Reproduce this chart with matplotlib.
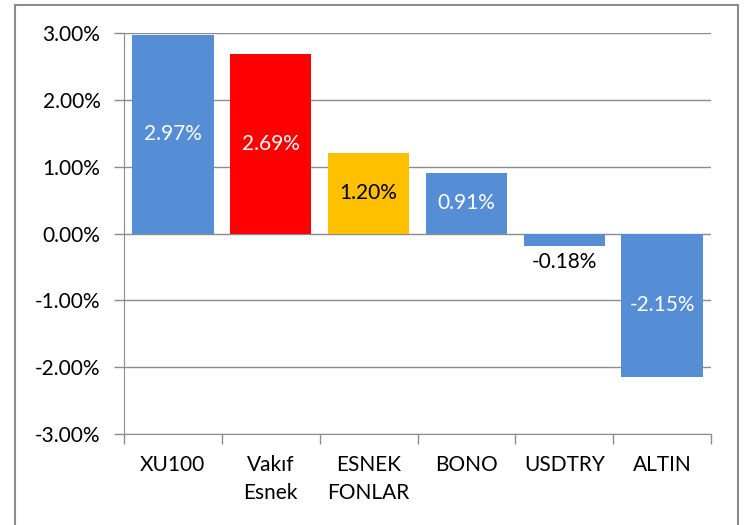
import numpy as np
import matplotlib.pyplot as plt
from matplotlib.patches import Rectangle
from matplotlib.ticker import FuncFormatter

plt.rcParams['font.family'] = ['Lato', 'DejaVu Sans']

categories = ['XU100', 'Vakıf\nEsnek', 'ESNEK\nFONLAR', 'BONO', 'USDTRY', 'ALTIN']
values = [2.97, 2.69, 1.20, 0.91, -0.18, -2.15]
colors = ['#558ED5', '#FF0000', '#FFC000', '#558ED5', '#558ED5', '#558ED5']
label_colors = ['white', 'white', 'black', 'white', 'black', 'white']

fs = 15

fig = plt.figure(figsize=(7.48, 5.25), dpi=100)
ax = fig.add_axes([124/748, 1-434/525, (711-124)/748, (434-33)/525])

# frame around the whole chart (bottom edge runs off the picture)
fig.patches.append(Rectangle((15/748, -0.1), (738-15)/748, 1.1 - 5/525,
                             transform=fig.transFigure, fill=False,
                             edgecolor='#8c8c8c', linewidth=1.5))

ind = np.arange(len(categories))
rects = ax.bar(ind, values, 0.83, color=colors, zorder=3)

ax.set_xlim(-0.5, len(categories) - 0.5)
ax.set_ylim(-3, 3)
ax.set_yticks(np.arange(-3, 3.01, 1))
ax.yaxis.set_major_formatter(FuncFormatter(lambda v, p: '%.2f%%' % v))
ax.grid(axis='y', color='#8c8c8c', linewidth=1, zorder=0)

ax.set_xticks(np.arange(-0.5, len(categories)), minor=False)
ax.set_xticklabels([])
ax.set_xticks(ind, minor=True)
ax.set_xticklabels(categories, minor=True, fontsize=fs, linespacing=1.5)
ax.tick_params(axis='x', which='minor', length=0, pad=15)
ax.tick_params(axis='x', which='major', length=7, color='#8c8c8c', width=1)
ax.tick_params(axis='y', length=7, color='#8c8c8c', width=1, pad=10, labelsize=fs)

for s in ['top', 'right']:
    ax.spines[s].set_visible(False)
ax.spines['left'].set_color('#8c8c8c')
ax.spines['bottom'].set_color('#8c8c8c')

for r, v, c in zip(rects, values, label_colors):
    x = r.get_x() + r.get_width() / 2
    if abs(v) < 0.5:
        ax.text(x, v - 0.1, '%.2f%%' % v, ha='center', va='top', fontsize=fs, color=c, zorder=4)
    else:
        ax.text(x, v / 2, '%.2f%%' % v, ha='center', va='center', fontsize=fs, color=c, zorder=4)

fig.savefig('out.png', dpi=100)
